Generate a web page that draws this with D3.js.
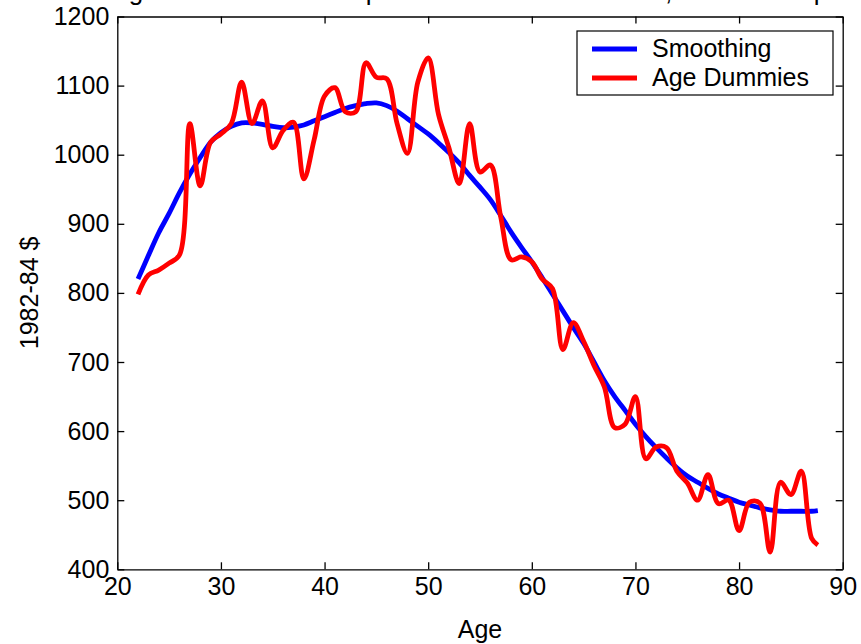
<!DOCTYPE html>
<html>
<head>
<meta charset="utf-8">
<script src="https://cdn.jsdelivr.net/npm/d3@7"></script>
<style>
  body { margin: 0; background: #fff; }
  svg { font-family: "Liberation Sans", Arial, Helvetica, sans-serif; }
</style>
</head>
<body>
<svg id="chart" width="861" height="644"></svg>
<script>
const ages = [22, 23, 24, 25, 26, 27, 28, 29, 30, 31, 32, 33, 34, 35, 36, 37, 38, 39, 40, 41,
  42, 43, 44, 45, 46, 47, 48, 49, 50, 51, 52, 53, 54, 55, 56, 57, 58, 59, 60, 61,
  62, 63, 64, 65, 66, 67, 68, 69, 70, 71, 72, 73, 74, 75, 76, 77, 78, 79, 80, 81,
  82, 83, 84, 85, 86, 87, 87.6];

const smoothing = [820, 854, 887, 915, 945, 972, 996, 1018, 1032, 1041, 1046, 1046, 1044, 1041, 1039, 1040, 1043, 1049, 1055, 1061,
  1067, 1071, 1074, 1075, 1071, 1063, 1052, 1041, 1030, 1017, 1003, 988, 970, 953, 935, 912, 888, 866, 845, 822,
  798, 774, 750, 727, 700, 673, 650, 630, 610, 592, 576, 561, 547, 535, 526, 517, 509, 503, 497, 493,
  489, 486, 484, 484, 484, 484, 485];

const ageDummies = [798, 826, 833, 843, 855, 1045, 955, 1018, 1030, 1045, 1105, 1045, 1078, 1010, 1035, 1047, 965, 1022, 1085, 1097,
  1062, 1062, 1133, 1112, 1110, 1045, 1002, 1105, 1140, 1058, 1010, 958, 1045, 975, 985, 910, 848, 852, 845, 820,
  806, 718, 757, 730, 695, 664, 605, 610, 650, 560, 577, 576, 542, 525, 500, 537, 495, 500, 456, 497,
  496, 425, 526, 508, 542, 445, 435];

const xTicks = [20, 30, 40, 50, 60, 70, 80, 90];
const yTicks = [400, 500, 600, 700, 800, 900, 1000, 1100, 1200];
const seriesNames = ["Smoothing", "Age Dummies"];
const seriesColors = ["#0000ff", "#ff0000"];
const titleText = "Age Profile of Real Expenditure on Nondurables, Whole Sample";

const svg = d3.select("#chart");
const margin = { top: 16.5, right: 18.3, bottom: 74.7, left: 117.3 };
const width = 861, height = 644;

const x = d3.scaleLinear().domain([20, 90]).range([margin.left, width - margin.right]);
const y = d3.scaleLinear().domain([400, 1200]).range([height - margin.bottom, margin.top]);

const fontSize = 25;

// axes, ticks pointing inward like a matlab box
svg.append("g")
  .attr("transform", `translate(0,${y(400)})`)
  .call(d3.axisBottom(x).tickValues(xTicks).tickSize(-7).tickPadding(8).tickSizeOuter(0));
svg.append("g")
  .attr("transform", `translate(${x(20)},0)`)
  .call(d3.axisLeft(y).tickValues(yTicks).tickFormat(d3.format("d")).tickSize(-7).tickPadding(8).tickSizeOuter(0));
svg.append("g")
  .attr("transform", `translate(0,${y(1200)})`)
  .call(d3.axisTop(x).tickValues(xTicks).tickSize(-7).tickFormat("").tickSizeOuter(0));
svg.append("g")
  .attr("transform", `translate(${x(90)},0)`)
  .call(d3.axisRight(y).tickValues(yTicks).tickSize(-7).tickFormat("").tickSizeOuter(0));

svg.selectAll(".domain, .tick line").attr("stroke", "#000").attr("stroke-width", 1.3);
svg.selectAll(".tick text")
  .attr("font-size", fontSize)
  .attr("font-family", "Liberation Sans, Arial, sans-serif")
  .attr("fill", "#000");

// lines
const line = vals => d3.line()
  .x((d, i) => x(ages[i]))
  .y(d => y(d))
  .curve(d3.curveCatmullRom.alpha(0.5))(vals);

[smoothing, ageDummies].forEach((vals, k) => {
  svg.append("path")
    .attr("d", line(vals))
    .attr("fill", "none")
    .attr("stroke", seriesColors[k])
    .attr("stroke-width", 4.8)
    .attr("stroke-linejoin", "round");
});

// legend
const lg = svg.append("g");
lg.append("rect")
  .attr("x", 577).attr("y", 31).attr("width", 256).attr("height", 64)
  .attr("fill", "#fff").attr("stroke", "#000").attr("stroke-width", 1.2);
seriesNames.forEach((name, k) => {
  const yy = 49 + k * 29;
  lg.append("line")
    .attr("x1", 592).attr("x2", 637).attr("y1", yy).attr("y2", yy)
    .attr("stroke", seriesColors[k]).attr("stroke-width", 4.8);
  lg.append("text")
    .attr("x", 652).attr("y", yy + 8)
    .attr("font-size", fontSize)
    .text(name);
});

// labels
svg.append("text")
  .attr("x", (x(20) + x(90)) / 2).attr("y", 638)
  .attr("text-anchor", "middle")
  .attr("font-size", fontSize)
  .text("Age");

svg.append("text")
  .attr("transform", `translate(38,${(y(400) + y(1200)) / 2}) rotate(-90)`)
  .attr("text-anchor", "middle")
  .attr("font-size", fontSize)
  .text("1982-84 $");

// title runs off the top of the page, only its descenders show
svg.append("text")
  .attr("x", (x(20) + x(90)) / 2).attr("y", -0.5)
  .attr("text-anchor", "middle")
  .attr("font-size", 26)
  .text(titleText);
</script>
</body>
</html>
